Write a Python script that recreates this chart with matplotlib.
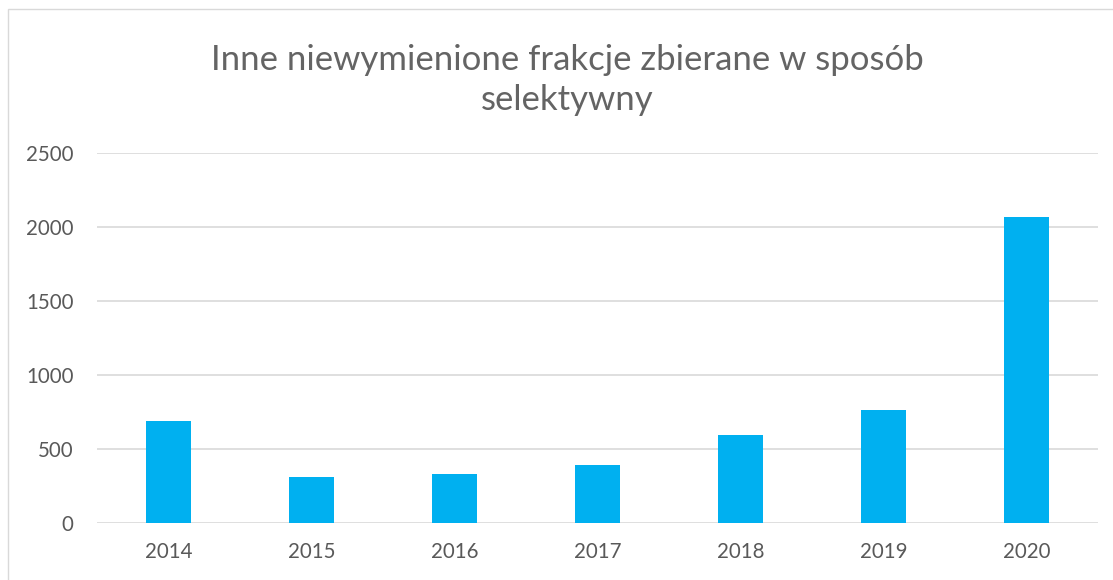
import matplotlib
matplotlib.use("Agg")
import matplotlib.pyplot as plt
from matplotlib.patches import Rectangle

years = ["2014", "2015", "2016", "2017", "2018", "2019", "2020"]
values = [685, 309, 329, 390, 595, 761, 2070]
yticks = [0, 500, 1000, 1500, 2000, 2500]
title = "Inne niewymienione frakcje zbierane w sposób\nselektywny"

W, H = 1113, 580
fig = plt.figure(figsize=(W / 100, H / 100), dpi=100)
fig.patch.set_facecolor("white")
fig.patches.append(Rectangle((8 / W, -0.1), 1.2, (H - 9) / H + 0.1, transform=fig.transFigure,
                             fill=False, edgecolor="#d9d9d9", linewidth=1))

ax = fig.add_axes([97 / W, (H - 522.7) / H, (1098 - 97) / W, (522.7 - 153.3) / H])
x = list(range(len(years)))
ax.bar(x, values, width=0.31, color="#00B0F0", zorder=3)
ax.set_xlim(-0.5, len(years) - 0.5)
ax.set_ylim(0, 2500)
ax.set_yticks(yticks)
ax.set_xticks(x)
ax.set_xticklabels(years)
ax.grid(axis="y", color="#d9d9d9", linewidth=1.2, zorder=0)
for s in ax.spines.values():
    s.set_visible(False)
ax.tick_params(axis="both", length=0, labelsize=14.8, labelcolor="#595959")
ax.tick_params(axis="y", pad=17)
ax.tick_params(axis="x", pad=14)
for lab in ax.get_xticklabels() + ax.get_yticklabels():
    lab.set_family(["Lato", "DejaVu Sans"])

fig.text(567 / W, 1 - 80 / H, title, ha="center", va="center", fontsize=25,
         color="#646464", family=["Lato", "DejaVu Sans"], fontweight="normal", linespacing=1.3)

fig.savefig("out.png", dpi=100)
